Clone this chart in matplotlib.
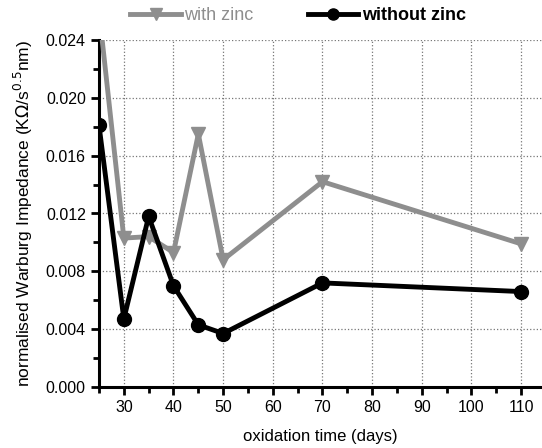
import matplotlib
matplotlib.use("Agg")
import matplotlib.pyplot as plt
from matplotlib.ticker import MultipleLocator

plt.rcParams['font.family'] = ['Liberation Sans', 'DejaVu Sans']

days = [25, 30, 35, 40, 45, 50, 70, 110]
with_zinc = [0.0260, 0.0103, 0.0104, 0.0093, 0.0175, 0.0088, 0.0142, 0.0099]
without_zinc = [0.0181, 0.0047, 0.0118, 0.0070, 0.0043, 0.0037, 0.0072, 0.0066]

fig = plt.figure(figsize=(5.42, 4.48), dpi=100)
ax = fig.add_axes([99/542, 1-387/448, 1-99/542, (387-40)/448])

gray = '#8e8e8e'
l1, = ax.plot(days, with_zinc, color=gray, lw=3.5, marker='v', ms=10,
              mfc=gray, mec=gray, label='with zinc', zorder=3)
l2, = ax.plot(days, without_zinc, color='black', lw=3.5, marker='o', ms=10,
              label='without zinc', zorder=4)

ax.set_xlim(25, 114.2)
ax.set_ylim(0, 0.024)
ax.xaxis.set_major_locator(MultipleLocator(10))
ax.xaxis.set_minor_locator(MultipleLocator(5))
ax.yaxis.set_major_locator(MultipleLocator(0.004))
ax.yaxis.set_minor_locator(MultipleLocator(0.002))
ax.set_xticks([30, 40, 50, 60, 70, 80, 90, 100, 110])
ax.yaxis.set_major_formatter(matplotlib.ticker.FormatStrFormatter('%.3f'))

for s in ['top', 'right']:
    ax.spines[s].set_visible(False)
for s in ['left', 'bottom']:
    ax.spines[s].set_linewidth(2.2)

ax.tick_params(which='major', direction='out', length=6, width=2, labelsize=11.5)
ax.tick_params(which='minor', direction='out', length=4, width=2)
ax.grid(True, which='major', linestyle=':', color='#777777', lw=0.9)
ax.set_axisbelow(True)

ax.set_xlabel('oxidation time (days)', fontsize=12, labelpad=10)
ax.set_ylabel(r'normalised Warburg Impedance (K$\Omega$/s$^{0.5}$nm)', fontsize=12.5, labelpad=8)

leg = fig.legend(handles=[l1, l2], loc='center', bbox_to_anchor=(0.55, 0.965),
                 ncol=2, frameon=False, fontsize=13, handlelength=2.8,
                 columnspacing=3.0, handletextpad=0.2, markerscale=0.8)
t = leg.get_texts()
t[0].set_color(gray)
t[1].set_fontweight('bold')

fig.savefig('out.png', dpi=100)
